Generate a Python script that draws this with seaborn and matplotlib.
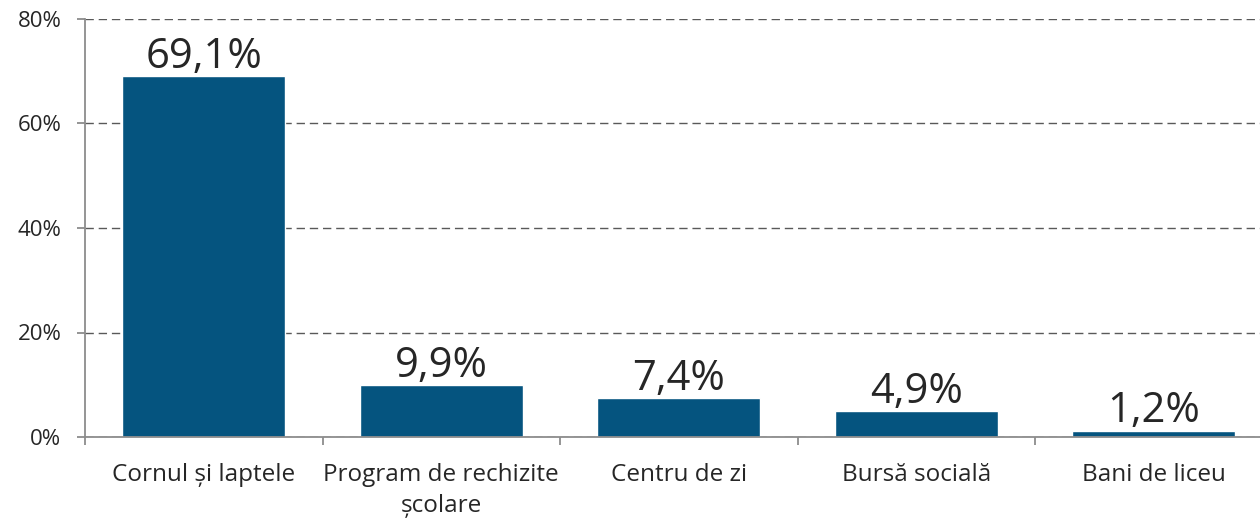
import matplotlib
matplotlib.use("Agg")
import matplotlib.pyplot as plt
import seaborn as sns
import pandas as pd
from matplotlib.ticker import FixedLocator

categories = ["Cornul și laptele", "Program de rechizite\nșcolare", "Centru de zi",
              "Bursă socială", "Bani de liceu"]
values = [69.1, 9.9, 7.4, 4.9, 1.2]
yticks = [0, 20, 40, 60, 80]
ytick_labels = ["0%", "20%", "40%", "60%", "80%"]

sns.set_style("white")
plt.rcParams['font.family'] = ['Open Sans', 'DejaVu Sans']

fig = plt.figure(figsize=(12.6, 5.21), dpi=100)
W, H = 1260, 521
left, right, top, bottom = 85, 1272.5, 19, 437
ax = fig.add_axes([left / W, 1 - bottom / H, (right - left) / W, (bottom - top) / H])

df = pd.DataFrame({"cat": categories, "val": values})
sns.barplot(data=df, x="cat", y="val", color="#05547F", saturation=1, width=0.688,
            ax=ax, zorder=3)

ax.set_xlim(-0.5, len(categories) - 0.5)
ax.set_ylim(0, 80)
ax.set_yticks(yticks)
ax.set_yticklabels(ytick_labels)
ax.set_xlabel("")
ax.set_ylabel("")

ax.grid(axis="y", color="#595959", linestyle=(0, (6, 3.5)), linewidth=1.0, zorder=0)
ax.grid(axis="x", visible=False)

for s in ["top", "right"]:
    ax.spines[s].set_visible(False)
for s in ["left", "bottom"]:
    ax.spines[s].set_color("#8c8c8c")
    ax.spines[s].set_linewidth(1.3)
    ax.spines[s].set_zorder(4)

ax.tick_params(axis="y", which="major", length=6, width=1.3, color="#8c8c8c", pad=11,
               labelsize=16, labelcolor="#262626", left=True)
ax.tick_params(axis="x", which="major", length=0, pad=19, labelsize=17.5, labelcolor="#262626")
ax.xaxis.set_minor_locator(FixedLocator([i - 0.5 for i in range(len(categories) + 1)]))
ax.tick_params(axis="x", which="minor", length=6, width=1.3, color="#8c8c8c", bottom=True)
for lbl in ax.get_xticklabels():
    lbl.set_linespacing(1.38)

for i, v in enumerate(values):
    ax.annotate(f"{v:.1f}%".replace(".", ","), xy=(i, v), xytext=(0, 6),
                textcoords="offset points", ha="center", va="baseline",
                fontsize=30, color="#262626", zorder=5)

fig.savefig("out.png", dpi=100)
